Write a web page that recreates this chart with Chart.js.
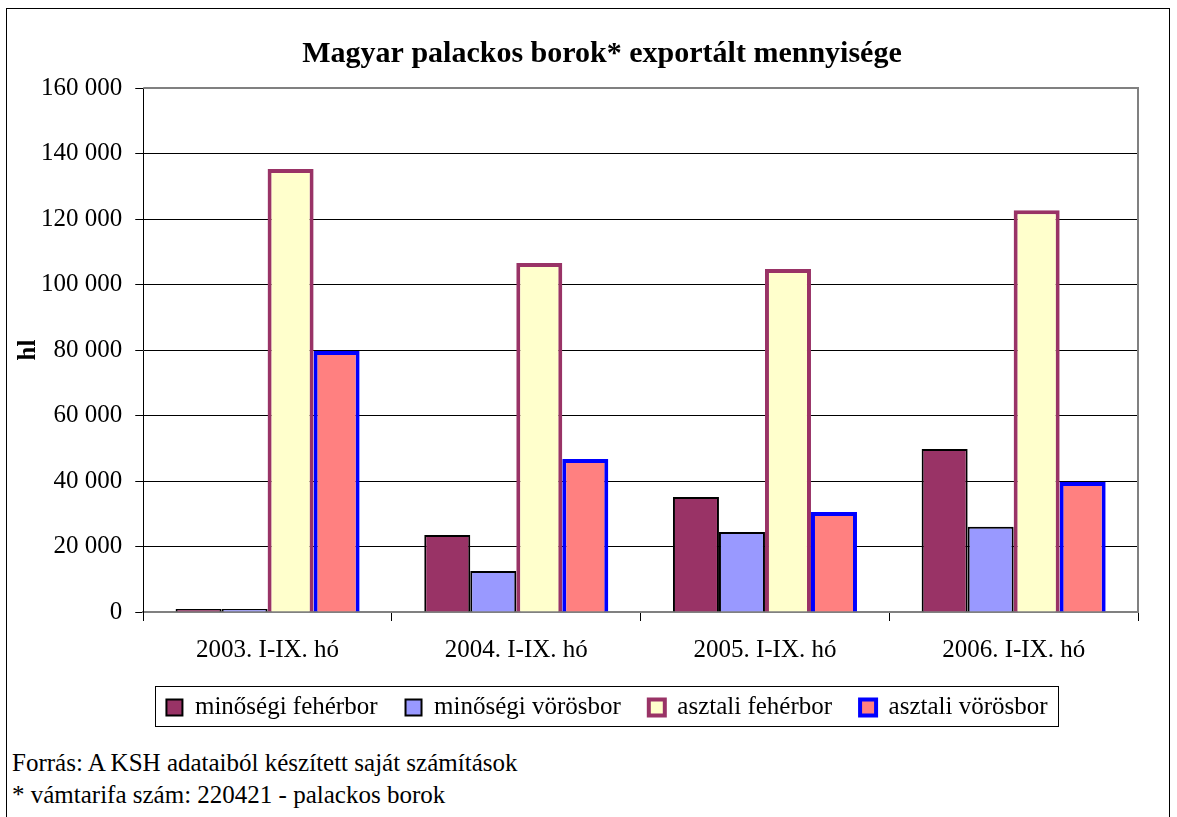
<!DOCTYPE html>
<html>
<head>
<meta charset="utf-8">
<script src="https://cdn.jsdelivr.net/npm/chart.js@4/dist/chart.umd.min.js"></script>
<style>
  html, body { margin: 0; padding: 0; background: #fff; }
  #frame {
    position: absolute; left: 6px; top: 8px; width: 1164px; height: 830px;
    border: 1px solid #000; box-sizing: border-box;
  }
  #wrap { position: absolute; left: 0; top: 0; width: 1162px; height: 733px; }
  .note {
    position: absolute; left: 5px; font-family: "Liberation Serif", serif;
    font-size: 25px; line-height: 29px; color: #000; white-space: nowrap;
  }
</style>
</head>
<body>
<div id="frame">
  <div id="wrap"><canvas id="chart"></canvas></div>
  <div class="note" style="top: 739px;">Forrás: A KSH adataiból készített saját számítások</div>
  <div class="note" style="top: 771px;">* vámtarifa szám: 220421 - palackos borok</div>
</div>
<script>
const categories = ['2003. I-IX. hó', '2004. I-IX. hó', '2005. I-IX. hó', '2006. I-IX. hó']
const minosegiFeherbor = [900, 23500, 35100, 49800]
const minosegiVorosbor = [200, 12500, 24400, 26000]
const asztaliFeherbor = [135300, 106600, 104700, 122700]
const asztaliVorosbor = [79700, 46700, 30500, 39700]
const yTicks = [0, 20000, 40000, 60000, 80000, 100000, 120000, 140000, 160000]

const serif = '"Liberation Serif", "Times New Roman", serif'

const fmt = (v) => String(v).replace(/\B(?=(\d{3})+(?!\d))/g, ' ')

// title and legend sit a bit right of centre in the original
const blockShift = {
  id: 'blockShift',
  afterLayout(chart) {
    const lg = chart.legend
    if (lg) {
      lg.left += 30
      lg.right += 30
      lg.top -= 12
      lg.bottom -= 12
    }
    const tb = chart.titleBlock
    if (tb) {
      tb.left += 25
      tb.right += 25
    }
  },
}

// plot frame (top/right grey edge) and box round the legend
const framePlugin = {
  id: 'framePlugin',
  afterDraw(chart) {
    const { ctx, chartArea: a } = chart
    ctx.save()
    ctx.strokeStyle = '#808080'
    ctx.lineWidth = 2
    ctx.beginPath()
    ctx.moveTo(a.left, a.top)
    ctx.lineTo(a.right, a.top)
    ctx.lineTo(a.right, a.bottom)
    ctx.stroke()
    ctx.strokeStyle = '#000'
    ctx.lineWidth = 1
    ctx.strokeRect(148.5, 677.5, 903, 40)
    ctx.restore()
  },
}

new Chart(document.getElementById('chart'), {
  type: 'bar',
  data: {
    labels: categories,
    datasets: [
      { label: 'minőségi fehérbor', data: minosegiFeherbor, backgroundColor: '#993366', borderColor: '#000', borderWidth: 2 },
      { label: 'minőségi vörösbor', data: minosegiVorosbor, backgroundColor: '#9999FF', borderColor: '#000', borderWidth: 2, minBarLength: 3 },
      { label: 'asztali fehérbor', data: asztaliFeherbor, backgroundColor: '#FFFFCC', borderColor: '#993366', borderWidth: 4 },
      { label: 'asztali vörösbor', data: asztaliVorosbor, backgroundColor: '#FF8080', borderColor: '#0000FF', borderWidth: 4 },
    ],
  },
  options: {
    responsive: true,
    maintainAspectRatio: false,
    animation: false,
    datasets: { bar: { categoryPercentage: 0.74, barPercentage: 1 } },
    layout: { padding: { left: 9, right: 31, top: 0, bottom: 0 } },
    plugins: {
      title: {
        display: true,
        text: 'Magyar palackos borok* exportált mennyisége',
        color: '#000',
        font: { family: serif, size: 30, weight: 'bold' },
        padding: { top: 27, bottom: 16 },
      },
      legend: {
        position: 'bottom',
        labels: {
          color: '#000',
          font: { family: serif, size: 25 },
          boxWidth: 16,
          boxHeight: 16,
          padding: 28,
        },
      },
      tooltip: { enabled: false },
    },
    scales: {
      x: {
        grid: { display: true, offset: true, drawOnChartArea: false, tickLength: 9, color: '#000' },
        border: { color: '#808080', width: 2 },
        ticks: { color: '#000', font: { family: serif, size: 25 }, padding: 14 },
      },
      y: {
        min: 0,
        max: 160000,
        afterBuildTicks: (axis) => { axis.ticks = yTicks.map((v) => ({ value: v })) },
        grid: { color: '#000', tickLength: 8, lineWidth: 1 },
        border: { color: '#000', width: 1 },
        ticks: {
          color: '#000',
          font: { family: serif, size: 25 },
          padding: 13,
          callback: (v) => fmt(v),
        },
        title: {
          display: true,
          text: 'hl',
          color: '#000',
          font: { family: serif, size: 25, weight: 'bold', lineHeight: 1 },
          padding: { top: 0, bottom: -13 },
        },
      },
    },
  },
  plugins: [blockShift, framePlugin],
})
</script>
</body>
</html>
